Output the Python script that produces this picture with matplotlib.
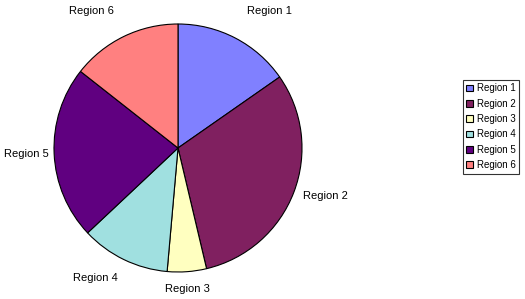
import numpy as np
import matplotlib.pyplot as plt

# ── data ──
regions = ["Region 1", "Region 2", "Region 3", "Region 4", "Region 5", "Region 6"]
values  = [15.3, 31.0, 5.1, 11.6, 22.6, 14.4]
colors  = ["#8080FF", "#802060", "#FFFFC0", "#A0E0E0", "#600080", "#FF8080"]
# radial distance of each label's nearest corner (in pie radii)
label_dist = [1.2, 1.08, 1.1, 1.12, 1.04, 1.18]

plt.rcParams["font.family"] = ["Liberation Sans", "DejaVu Sans"]

W, H = 525, 299
fig = plt.figure(figsize=(W / 100, H / 100), dpi=100)
fig.patch.set_facecolor("white")

# pie centre (178,148) px, radius 124 px
cx, cy, r = 178, 148, 124
ax = fig.add_axes([(cx - r) / W, (H - cy - r) / H, 2 * r / W, 2 * r / H])

wedges, _ = ax.pie(
    values,
    colors=colors,
    startangle=90,
    counterclock=False,
    wedgeprops=dict(edgecolor="black", linewidth=0.8),
)

# ── Excel-style labels: nearest corner of the text box sits on the mid-angle ──
for w, name, d in zip(wedges, regions, label_dist):
    mid = np.deg2rad((w.theta1 + w.theta2) / 2)
    c, s = np.cos(mid), np.sin(mid)
    ha = "left" if c > 0.3 else ("right" if c < -0.3 else "center")
    va = "bottom" if s > 0.5 else ("top" if s < -0.5 else "center")
    ax.text(d * c, d * s, name, ha=ha, va=va, fontsize=8, color="black")

ax.set_xlim(-1, 1)
ax.set_ylim(-1, 1)
ax.set_aspect("equal")

leg = fig.legend(
    wedges, regions,
    loc="upper left",
    bbox_to_anchor=(463 / W, 1 - 80 / H),
    fontsize=7,
    frameon=True,
    fancybox=False,
    edgecolor="black",
    borderpad=0.35,
    labelspacing=0.55,
    handlelength=0.7,
    handleheight=0.7,
    handletextpad=0.35,
    borderaxespad=0,
)
leg.get_frame().set_linewidth(0.8)

fig.savefig("out.png", dpi=100)
